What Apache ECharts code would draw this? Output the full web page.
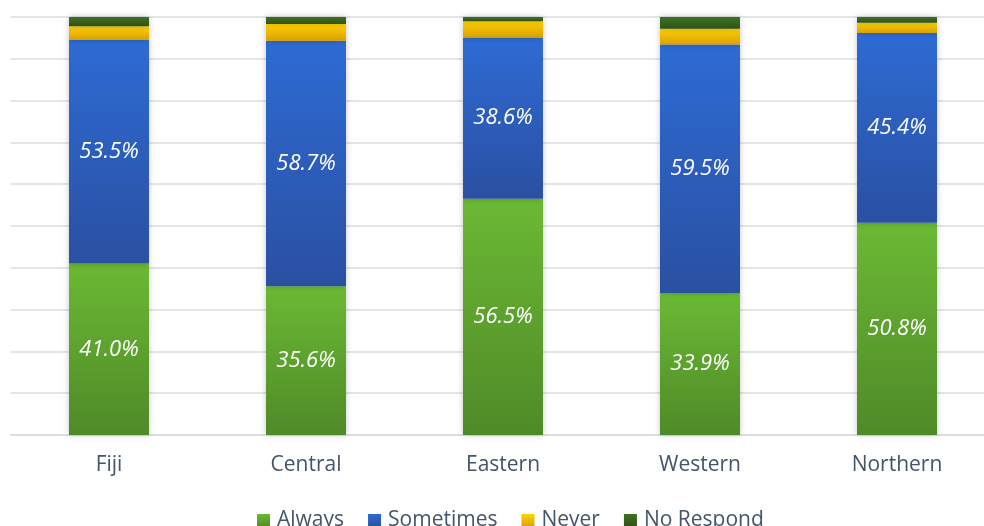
<!DOCTYPE html>
<html>
<head>
<meta charset="utf-8">
<script src="https://cdn.jsdelivr.net/npm/echarts@6/dist/echarts.min.js"></script>
<style>
  html, body { margin: 0; padding: 0; background: #fff; }
  #main { width: 984px; height: 526px; }
</style>
</head>
<body>
<div id="main"></div>
<script>
  // regions
  var regions = ['Fiji', 'Central', 'Eastern', 'Western', 'Northern'];
  // shares in %
  var always = [41.0, 35.6, 56.5, 33.9, 50.8];
  var sometimes = [53.5, 58.7, 38.6, 59.5, 45.4];
  var never = [3.3, 4.0, 3.9, 3.8, 2.4];
  var noRespond = [2.2, 1.7, 1.0, 2.8, 1.4];

  var font = '"Open Sans", "Noto Sans", sans-serif';

  function grad(top, bottom) {
    return new echarts.graphic.LinearGradient(0, 0, 0, 1, [
      { offset: 0, color: top },
      { offset: 1, color: bottom }
    ]);
  }

  function makeSeries(name, data, top, bottom, showLabel) {
    return {
      name: name,
      type: 'bar',
      stack: 'total',
      barWidth: 80,
      data: data,
      itemStyle: {
        color: grad(top, bottom),
        shadowBlur: 6,
        shadowColor: 'rgba(0,0,0,0.22)'
      },
      label: {
        show: showLabel,
        position: 'inside',
        color: '#fff',
        fontStyle: 'italic',
        fontSize: 22,
        fontFamily: font,
        formatter: function (p) { return p.value.toFixed(1) + '%'; }
      }
    };
  }

  var myChart = echarts.init(document.getElementById('main'));
  var option = {
    animation: false,
    backgroundColor: '#fff',
    grid: {
      left: 10.5,
      width: 985,
      top: 17,
      bottom: 91,
      outerBoundsMode: 'none'
    },
    legend: {
      data: ['Always', 'Sometimes', 'Never', 'No Respond'],
      top: 505,
      left: 252,
      icon: 'rect',
      itemWidth: 13,
      itemHeight: 13,
      itemGap: 24,
      textStyle: {
        fontSize: 21,
        color: '#44546a',
        fontFamily: font,
        padding: [0, 0, 0, 2]
      }
    },
    xAxis: {
      type: 'category',
      data: regions,
      axisTick: { show: false },
      axisLine: { lineStyle: { color: '#d9dde3', width: 1.5 } },
      axisLabel: {
        margin: 20,
        fontSize: 21,
        color: '#44546a',
        fontFamily: font
      }
    },
    yAxis: {
      type: 'value',
      min: 0,
      max: 100,
      interval: 10,
      axisLabel: { show: false },
      axisLine: { show: false },
      axisTick: { show: false },
      splitLine: { lineStyle: { color: '#d9dde3', width: 1.5 } }
    },
    series: [
      makeSeries('Always', always, '#6bb934', '#4f8a28', true),
      makeSeries('Sometimes', sometimes, '#2e6bd4', '#2a50a2', true),
      makeSeries('Never', never, '#ffd300', '#d9a000', false),
      makeSeries('No Respond', noRespond, '#40701f', '#2e5317', false)
    ]
  };
  myChart.setOption(option);
</script>
</body>
</html>
